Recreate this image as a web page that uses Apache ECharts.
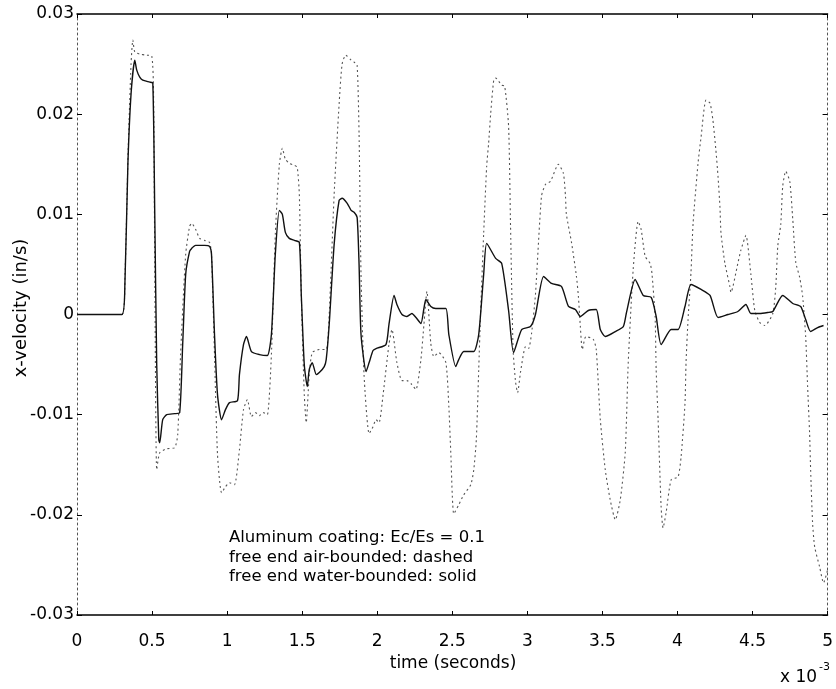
<!DOCTYPE html>
<html>
<head>
<meta charset="utf-8">
<title>x-velocity vs time</title>
<script src="https://cdn.jsdelivr.net/npm/echarts@6/dist/echarts.min.js"></script>
<style>
  html, body { margin: 0; padding: 0; background: #fff; }
  #chart { width: 836px; height: 689px; }
</style>
</head>
<body>
<div id="chart"></div>
<script>
// time in units of 1e-3 s, velocity in in/s
var airBounded = [ // dashed
  [0, 0], [0.30, 0], [0.32, 0.004], [0.34, 0.016], [0.36, 0.025], [0.372, 0.0274],
  [0.385, 0.0262], [0.418, 0.026], [0.458, 0.0259], [0.498, 0.0258], [0.51, 0.022],
  [0.518, 0.005], [0.531, -0.0155], [0.551, -0.0138], [0.598, -0.0134], [0.651, -0.0133],
  [0.671, -0.012], [0.69, -0.004], [0.724, 0.006], [0.75, 0.0088], [0.764, 0.0091],
  [0.79, 0.0085], [0.817, 0.0076], [0.85, 0.0074], [0.883, 0.0072], [0.896, 0.006],
  [0.916, -0.004], [0.936, -0.014], [0.963, -0.0178], [0.989, -0.0172], [1.016, -0.0168],
  [1.049, -0.017], [1.082, -0.0135], [1.109, -0.0095], [1.135, -0.0085], [1.162, -0.0102],
  [1.189, -0.0098], [1.215, -0.0101], [1.242, -0.0098], [1.268, -0.01], [1.295, -0.004],
  [1.321, 0.008], [1.348, 0.015], [1.368, 0.0166], [1.388, 0.0155], [1.414, 0.0151],
  [1.448, 0.0149], [1.467, 0.0147], [1.481, 0.012], [1.494, 0.002], [1.514, -0.008],
  [1.527, -0.0108], [1.547, -0.006], [1.567, -0.0038], [1.614, -0.0035], [1.66, -0.0035],
  [1.68, 0.0], [1.713, 0.012], [1.746, 0.021], [1.766, 0.025], [1.79, 0.0259],
  [1.826, 0.0254], [1.846, 0.0252], [1.866, 0.0249], [1.879, 0.018], [1.892, 0.004],
  [1.912, -0.006], [1.946, -0.0119], [1.972, -0.0112], [1.992, -0.0105], [2.012, -0.0108],
  [2.039, -0.008], [2.078, -0.003], [2.098, -0.0015], [2.131, -0.0048], [2.165, -0.0066],
  [2.198, -0.0066], [2.231, -0.007], [2.258, -0.0075], [2.291, -0.0045], [2.311, -0.001],
  [2.331, 0.0023], [2.357, -0.0029], [2.377, -0.0042], [2.41, -0.0038], [2.457, -0.0048],
  [2.477, -0.0092], [2.49, -0.0138], [2.51, -0.0199], [2.543, -0.019], [2.576, -0.018],
  [2.623, -0.017], [2.643, -0.0155], [2.66, -0.0125], [2.676, -0.0055], [2.689, 0.0004],
  [2.709, 0.0081], [2.729, 0.0148], [2.742, 0.0171], [2.756, 0.0201], [2.776, 0.0234],
  [2.789, 0.0236], [2.829, 0.0229], [2.849, 0.0228], [2.875, 0.0188], [2.888, 0.0088],
  [2.905, -0.0035], [2.922, -0.0068], [2.935, -0.0078], [2.955, -0.0057], [2.988, -0.0032],
  [3.008, -0.0034], [3.028, -0.0019], [3.054, 0.002], [3.094, 0.0118], [3.121, 0.013],
  [3.154, 0.0133], [3.207, 0.015], [3.24, 0.0141], [3.254, 0.0118], [3.26, 0.01],
  [3.294, 0.0072], [3.327, 0.0038], [3.34, 0.0018], [3.353, -0.0012], [3.366, -0.0035],
  [3.39, -0.0022], [3.44, -0.0025], [3.459, -0.0035], [3.486, -0.0105], [3.519, -0.0155],
  [3.552, -0.0185], [3.586, -0.0205], [3.619, -0.0185], [3.652, -0.0138], [3.672, -0.0048],
  [3.705, 0.0045], [3.738, 0.0093], [3.758, 0.0085], [3.785, 0.0058], [3.818, 0.0051],
  [3.83, 0.0041], [3.851, -0.0002], [3.858, -0.0055], [3.871, -0.0105], [3.891, -0.0192],
  [3.904, -0.0213], [3.924, -0.0198], [3.958, -0.0165], [4.004, -0.0162], [4.024, -0.0142],
  [4.05, -0.0089], [4.057, -0.0048], [4.07, -0.0006], [4.09, 0.0042], [4.104, 0.0091],
  [4.137, 0.0151], [4.157, 0.0177], [4.19, 0.0214], [4.217, 0.0211], [4.236, 0.0194],
  [4.256, 0.0164], [4.27, 0.0138], [4.283, 0.0107], [4.29, 0.0081], [4.316, 0.0051],
  [4.349, 0.0028], [4.356, 0.0022], [4.402, 0.0051], [4.422, 0.0064], [4.456, 0.0079],
  [4.489, 0.004], [4.515, 0.0004], [4.548, -0.0008], [4.582, -0.0011], [4.635, 0.0001],
  [4.655, 0.0028], [4.668, 0.0068], [4.688, 0.009], [4.701, 0.0128], [4.721, 0.0143],
  [4.748, 0.0133], [4.768, 0.0095], [4.788, 0.0052], [4.814, 0.0037], [4.834, 0.0018],
  [4.854, -0.0022], [4.867, -0.0072], [4.88, -0.0118], [4.887, -0.0155], [4.9, -0.0208],
  [4.914, -0.0232], [4.947, -0.0252], [4.973, -0.0268], [5.0, -0.0255]
];

var waterBounded = [ // solid
  [0, 0], [0.299, 0], [0.319, 0.003], [0.339, 0.015], [0.36, 0.022], [0.385, 0.0254],
  [0.398, 0.0244], [0.418, 0.0237], [0.438, 0.0234], [0.485, 0.0232], [0.505, 0.0231],
  [0.518, 0.01], [0.531, -0.005], [0.545, -0.0125], [0.551, -0.0128], [0.571, -0.0105],
  [0.598, -0.01], [0.651, -0.0099], [0.684, -0.0098], [0.704, -0.003], [0.724, 0.004],
  [0.75, 0.0063], [0.764, 0.0066], [0.79, 0.0069], [0.85, 0.0069], [0.883, 0.0068],
  [0.896, 0.006], [0.916, -0.002], [0.936, -0.008], [0.963, -0.0105], [0.989, -0.0095],
  [1.016, -0.0088], [1.069, -0.0086], [1.082, -0.006], [1.109, -0.003], [1.129, -0.0022],
  [1.162, -0.0037], [1.215, -0.004], [1.268, -0.0041], [1.295, -0.002], [1.321, 0.006],
  [1.348, 0.0104], [1.368, 0.01], [1.388, 0.0082], [1.414, 0.0076], [1.448, 0.0074],
  [1.481, 0.0072], [1.494, 0.002], [1.514, -0.005], [1.534, -0.0072], [1.547, -0.0055],
  [1.567, -0.0048], [1.594, -0.006], [1.614, -0.0058], [1.647, -0.0052], [1.66, -0.0045],
  [1.68, -0.001], [1.713, 0.007], [1.746, 0.0114], [1.766, 0.0116], [1.8, 0.0111],
  [1.826, 0.0104], [1.846, 0.0102], [1.866, 0.0097], [1.879, 0.005], [1.892, -0.002],
  [1.926, -0.0057], [1.946, -0.0048], [1.972, -0.0036], [1.992, -0.0034], [2.058, -0.003],
  [2.078, -0.001], [2.112, 0.0019], [2.131, 0.001], [2.165, 0.0], [2.198, -0.0002],
  [2.231, 0.0001], [2.258, -0.0003], [2.291, -0.0009], [2.311, 0.0006], [2.324, 0.0015],
  [2.357, 0.0008], [2.39, 0.0006], [2.457, 0.0006], [2.477, -0.002], [2.523, -0.0052],
  [2.543, -0.0045], [2.576, -0.0037], [2.643, -0.0037], [2.676, -0.002], [2.709, 0.004],
  [2.729, 0.0071], [2.789, 0.0056], [2.829, 0.0051], [2.875, 0.0004], [2.908, -0.0038],
  [2.962, -0.0015], [3.021, -0.0012], [3.054, 0.0], [3.108, 0.0038], [3.161, 0.0031],
  [3.227, 0.0028], [3.274, 0.0008], [3.32, 0.0005], [3.353, -0.0002], [3.406, 0.0004],
  [3.459, 0.0005], [3.486, -0.0015], [3.519, -0.0022], [3.586, -0.0017], [3.639, -0.0012],
  [3.659, 0.0001], [3.718, 0.0035], [3.772, 0.0019], [3.825, 0.0017], [3.858, -0.0002],
  [3.891, -0.003], [3.958, -0.0015], [4.004, -0.0015], [4.05, 0.0008], [4.09, 0.003],
  [4.157, 0.0025], [4.217, 0.0019], [4.27, -0.0003], [4.336, 0.0], [4.402, 0.0003],
  [4.456, 0.001], [4.489, 0.0001], [4.548, 0.0001], [4.602, 0.0002], [4.635, 0.0003],
  [4.701, 0.0019], [4.768, 0.0011], [4.821, 0.0008], [4.854, -0.0005], [4.887, -0.0017],
  [4.934, -0.0013], [4.973, -0.0011]
];

var noteLines = [
  "Aluminum coating: Ec/Es = 0.1",
  "free end air-bounded: dashed",
  "free end water-bounded: solid"
];

var FONT = "DejaVu Sans";

var chart = echarts.init(document.getElementById("chart"), null, { renderer: "canvas" });

function tickFmt(v) {
  return String(+v.toFixed(3));
}

var frameX = {
  type: "value", min: 0, max: 5, interval: 0.5,
  splitLine: { show: false },
  axisLine: { show: true, onZero: false, lineStyle: { color: "#000", width: 1.5 } },
  axisTick: { show: true, inside: true, length: 4, lineStyle: { color: "#000" } }
};
var frameY = {
  type: "value", min: -0.03, max: 0.03, interval: 0.01,
  splitLine: { show: false },
  axisLine: { show: true, onZero: false, lineStyle: { color: "#555", width: 1, type: [2, 3] } },
  axisTick: { show: true, inside: true, length: 5, lineStyle: { color: "#000" } }
};

chart.setOption({
  animation: false,
  backgroundColor: "#fff",
  grid: { left: 77, right: 6, top: 14, bottom: 74 },
  xAxis: [
    Object.assign({}, frameX, {
      position: "bottom",
      axisLabel: { fontFamily: FONT, fontSize: 17, color: "#000", margin: 18, formatter: tickFmt }
    }),
    Object.assign({}, frameX, { position: "top", axisLabel: { show: false } })
  ],
  yAxis: [
    Object.assign({}, frameY, {
      position: "left",
      axisLabel: { fontFamily: FONT, fontSize: 17, color: "#000", margin: 3, formatter: tickFmt }
    }),
    Object.assign({}, frameY, { position: "right", axisLabel: { show: false } })
  ],
  series: [
    {
      name: "air-bounded", type: "line", data: airBounded,
      xAxisIndex: 0, yAxisIndex: 0,
      showSymbol: false, smooth: 0.2,
      lineStyle: { color: "#555", width: 1.1, type: [2, 3] }
    },
    {
      name: "water-bounded", type: "line", data: waterBounded,
      xAxisIndex: 0, yAxisIndex: 0,
      showSymbol: false, smooth: 0.2,
      lineStyle: { color: "#111", width: 1.4 }
    }
  ],
  graphic: [
    {
      type: "text", left: 229, top: 528,
      style: { text: noteLines.join("\n"), font: "16.5px '" + FONT + "'", fill: "#000", lineHeight: 19.5 }
    },
    {
      type: "text", x: 453, y: 664,
      style: { text: "time (seconds)", font: "17px '" + FONT + "'", fill: "#000", align: "center", verticalAlign: "middle" }
    },
    {
      type: "text", x: 21, y: 308, rotation: Math.PI / 2,
      style: { text: "x-velocity (in/s)", font: "18px '" + FONT + "'", fill: "#000", align: "center", verticalAlign: "middle" }
    },
    {
      type: "text", x: 780, y: 678,
      style: { text: "x 10", font: "17px '" + FONT + "'", fill: "#000", align: "left", verticalAlign: "middle" }
    },
    {
      type: "text", x: 819, y: 667,
      style: { text: "-3", font: "11px '" + FONT + "'", fill: "#000", align: "left", verticalAlign: "middle" }
    }
  ]
});
</script>
</body>
</html>
